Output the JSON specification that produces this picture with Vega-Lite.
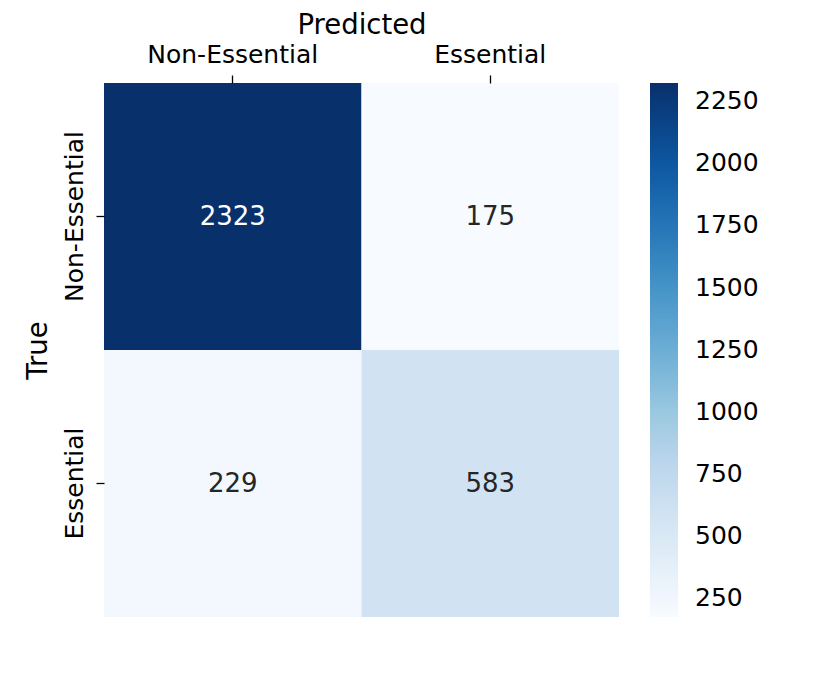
{
  "$schema": "https://vega.github.io/schema/vega-lite/v6.json",
  "width": 515,
  "height": 534,
  "autosize": {"type": "none"},
  "padding": {"left": 104, "top": 83, "right": 211, "bottom": 75},
  "background": "white",
  "config": {"font": "DejaVu Sans", "view": {"stroke": null}},
  "data": {"values": [
    {"True": "Non-Essential", "Predicted": "Non-Essential", "count": 2323},
    {"True": "Non-Essential", "Predicted": "Essential", "count": 175},
    {"True": "Essential", "Predicted": "Non-Essential", "count": 229},
    {"True": "Essential", "Predicted": "Essential", "count": 583}
  ]},
  "encoding": {
    "x": {
      "field": "Predicted", "type": "nominal",
      "sort": ["Non-Essential", "Essential"],
      "scale": {"paddingInner": 0, "paddingOuter": 0},
      "axis": {
        "orient": "top", "title": "Predicted", "titleFontSize": 27.5, "titleFontWeight": "normal", "titleColor": "black",
        "labelAngle": 0, "labelFontSize": 25, "labelColor": "black", "labelBaseline": "alphabetic", "labelPadding": 13,
        "tickSize": 8, "tickColor": "black", "tickWidth": 1.3, "domain": false, "titlePadding": 3
      }
    },
    "y": {
      "field": "True", "type": "nominal",
      "sort": ["Non-Essential", "Essential"],
      "scale": {"paddingInner": 0, "paddingOuter": 0},
      "axis": {
        "title": "True", "titleFontSize": 27.5, "titleFontWeight": "normal", "titleColor": "black",
        "labelAngle": 270, "labelAlign": "center", "labelBaseline": "alphabetic", "labelFontSize": 25, "labelColor": "black", "labelPadding": 14,
        "tickSize": 8, "tickColor": "black", "tickWidth": 1.3, "domain": false, "titlePadding": 10
      }
    }
  },
  "layer": [
    {
      "mark": {"type": "rect"},
      "encoding": {
        "color": {
          "field": "count", "type": "quantitative",
          "scale": {
            "domain": [175, 443.5, 712, 980.5, 1249, 1517.5, 1786, 2054.5, 2323],
            "range": ["#f7fbff", "#deebf7", "#c6dbef", "#9ecae1", "#6baed6", "#4292c6", "#2171b5", "#08519c", "#08306b"]
          },
          "legend": {
            "orient": "none", "legendX": 546, "legendY": 0, "direction": "vertical",
            "gradientLength": 534, "gradientThickness": 28, "gradientStrokeWidth": 0,
            "title": null, "padding": 0, "format": "d",
            "values": [250, 500, 750, 1000, 1250, 1500, 1750, 2000, 2250],
            "labelFontSize": 25, "labelColor": "black", "labelOffset": 17, "labelOverlap": false
          }
        }
      }
    },
    {
      "mark": {"type": "text", "fontSize": 26},
      "encoding": {
        "text": {"field": "count", "type": "quantitative", "format": "d"},
        "color": {"condition": {"test": "datum.count > 1200", "value": "white"}, "value": "#262626"}
      }
    }
  ]
}
